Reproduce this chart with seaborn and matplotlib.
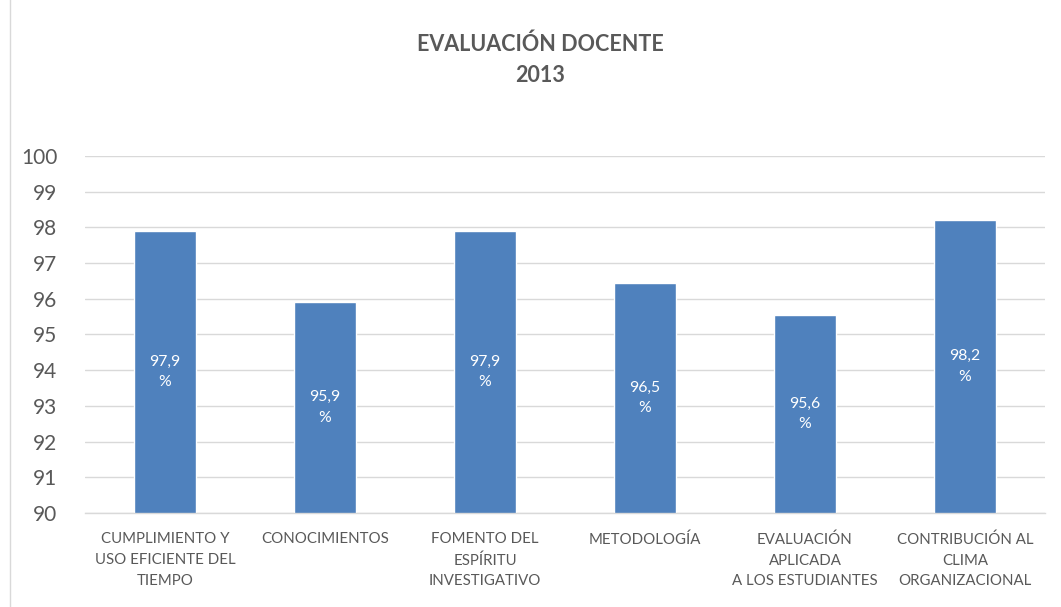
import matplotlib
matplotlib.use("Agg")
import matplotlib.pyplot as plt
import seaborn as sns
import pandas as pd
from matplotlib.patches import Rectangle

categories = ["CUMPLIMIENTO Y\nUSO EFICIENTE DEL\nTIEMPO", "CONOCIMIENTOS",
              "FOMENTO DEL\nESPÍRITU\nINVESTIGATIVO", "METODOLOGÍA",
              "EVALUACIÓN\nAPLICADA\nA LOS ESTUDIANTES",
              "CONTRIBUCIÓN AL\nCLIMA\nORGANIZACIONAL"]
values = [97.9, 95.9, 97.9, 96.45, 95.55, 98.2]
labels = ["97,9\n%", "95,9\n%", "97,9\n%", "96,5\n%", "95,6\n%", "98,2\n%"]
yticks = list(range(90, 101))

sns.set_theme(style="white")
plt.rcParams['font.family'] = ['Lato', 'DejaVu Sans']

df = pd.DataFrame({"cat": categories, "val": values})

fig = plt.figure(figsize=(10.61, 6.07), dpi=100)
ax = fig.add_axes([85/1061, 1-513/607, 960/1061, (513-156)/607])
sns.barplot(data=df, x="cat", y="val", color="#4f81bd", saturation=1, width=0.39, ax=ax, zorder=3)

ax.set_ylim(90, 100)
ax.set_xlim(-0.5, 5.5)
ax.set_yticks(yticks)
ax.set_yticklabels([str(t) for t in yticks], fontsize=15, color="#595959")
ax.tick_params(axis='y', length=0, pad=20)
ax.tick_params(axis='x', length=0, pad=14)
ax.set_xticks(range(len(categories)))
ax.set_xticklabels(categories, fontsize=10.8, color="#595959", linespacing=1.6)
ax.set_xlabel("")
ax.set_ylabel("")
ax.grid(axis='y', color="#d9d9d9", linewidth=1, zorder=0)
for s in ["top", "right", "left"]:
    ax.spines[s].set_visible(False)
ax.spines["bottom"].set_color("#d9d9d9")
ax.spines["bottom"].set_linewidth(1)
ax.spines["bottom"].set_zorder(4)

for i, (v, lab) in enumerate(zip(values, labels)):
    ax.text(i, (90 + v) / 2, lab, ha="center", va="center", color="white",
            fontsize=11.3, linespacing=1.6, zorder=5)

fig.text(540/1061, 1-60/607, "EVALUACIÓN DOCENTE\n2013", ha="center", va="center",
         fontsize=15.5, fontweight="bold", color="#595959", linespacing=1.6)

fig.patches.append(Rectangle((10/1061, -0.01), 1.0, 1.02, transform=fig.transFigure,
                             fill=False, edgecolor="#d9d9d9", linewidth=1))

fig.savefig("out.png", dpi=100)
